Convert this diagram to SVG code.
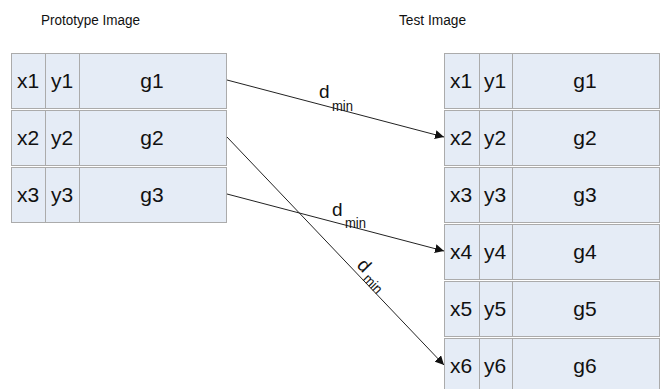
<svg xmlns="http://www.w3.org/2000/svg" width="665" height="389" viewBox="0 0 665 389">
<style>
.cell{fill:#e5ecf6;stroke:#ababab;stroke-width:1}
.div{stroke:#ababab;stroke-width:1}
.t{font-family:"Liberation Sans",Arial,sans-serif;font-size:21px;fill:#111;text-anchor:middle}
.title{font-family:"Liberation Sans",Arial,sans-serif;font-size:15.5px;fill:#111}
.d{font-family:"Liberation Sans",Arial,sans-serif;font-size:19px;fill:#111}
.m{font-family:"Liberation Sans",Arial,sans-serif;font-size:14px;fill:#111}
.arrow{stroke:#222;stroke-width:1;fill:none;marker-end:url(#ah)}
</style>
<defs>
<marker id="ah" viewBox="0 0 10 10" refX="10" refY="5" markerWidth="9" markerHeight="9" markerUnits="userSpaceOnUse" orient="auto">
<path d="M0,0 L10,5 L0,10 Z" fill="#111"/>
</marker>
</defs>
<rect width="665" height="389" fill="#ffffff"/>
<text class="title" x="41" y="25" textLength="99" lengthAdjust="spacingAndGlyphs">Prototype Image</text>
<text class="title" x="399" y="25" textLength="67" lengthAdjust="spacingAndGlyphs">Test Image</text>

<g id="proto-row1"><rect class="cell" x="11.5" y="53.5" width="215" height="55"/><line class="div" x1="45.5" y1="53.5" x2="45.5" y2="108.5"/><line class="div" x1="79.5" y1="53.5" x2="79.5" y2="108.5"/><text class="t" x="28" y="88">x1</text><text class="t" x="62" y="88">y1</text><text class="t" x="152" y="88">g1</text></g>
<g id="proto-row2"><rect class="cell" x="11.5" y="110.5" width="215" height="55"/><line class="div" x1="45.5" y1="110.5" x2="45.5" y2="165.5"/><line class="div" x1="79.5" y1="110.5" x2="79.5" y2="165.5"/><text class="t" x="28" y="145">x2</text><text class="t" x="62" y="145">y2</text><text class="t" x="152" y="145">g2</text></g>
<g id="proto-row3"><rect class="cell" x="11.5" y="167.5" width="215" height="55"/><line class="div" x1="45.5" y1="167.5" x2="45.5" y2="222.5"/><line class="div" x1="79.5" y1="167.5" x2="79.5" y2="222.5"/><text class="t" x="28" y="202">x3</text><text class="t" x="62" y="202">y3</text><text class="t" x="152" y="202">g3</text></g>

<g id="test-row1"><rect class="cell" x="444.5" y="53.5" width="215" height="55"/><line class="div" x1="479.5" y1="53.5" x2="479.5" y2="108.5"/><line class="div" x1="512.5" y1="53.5" x2="512.5" y2="108.5"/><text class="t" x="461" y="88">x1</text><text class="t" x="495" y="88">y1</text><text class="t" x="585" y="88">g1</text></g>
<g id="test-row2"><rect class="cell" x="444.5" y="110.5" width="215" height="55"/><line class="div" x1="479.5" y1="110.5" x2="479.5" y2="165.5"/><line class="div" x1="512.5" y1="110.5" x2="512.5" y2="165.5"/><text class="t" x="461" y="145">x2</text><text class="t" x="495" y="145">y2</text><text class="t" x="585" y="145">g2</text></g>
<g id="test-row3"><rect class="cell" x="444.5" y="167.5" width="215" height="55"/><line class="div" x1="479.5" y1="167.5" x2="479.5" y2="222.5"/><line class="div" x1="512.5" y1="167.5" x2="512.5" y2="222.5"/><text class="t" x="461" y="202">x3</text><text class="t" x="495" y="202">y3</text><text class="t" x="585" y="202">g3</text></g>
<g id="test-row4"><rect class="cell" x="444.5" y="224.5" width="215" height="55"/><line class="div" x1="479.5" y1="224.5" x2="479.5" y2="279.5"/><line class="div" x1="512.5" y1="224.5" x2="512.5" y2="279.5"/><text class="t" x="461" y="259">x4</text><text class="t" x="495" y="259">y4</text><text class="t" x="585" y="259">g4</text></g>
<g id="test-row5"><rect class="cell" x="444.5" y="281.5" width="215" height="55"/><line class="div" x1="479.5" y1="281.5" x2="479.5" y2="336.5"/><line class="div" x1="512.5" y1="281.5" x2="512.5" y2="336.5"/><text class="t" x="461" y="316">x5</text><text class="t" x="495" y="316">y5</text><text class="t" x="585" y="316">g5</text></g>
<g id="test-row6"><rect class="cell" x="444.5" y="338.5" width="215" height="55"/><line class="div" x1="479.5" y1="338.5" x2="479.5" y2="393.5"/><line class="div" x1="512.5" y1="338.5" x2="512.5" y2="393.5"/><text class="t" x="461" y="373">x6</text><text class="t" x="495" y="373">y6</text><text class="t" x="585" y="373">g6</text></g>

<g id="connectors">
<line class="arrow" x1="227" y1="80" x2="444" y2="137"/>
<line class="arrow" x1="227" y1="137" x2="444" y2="365"/>
<line class="arrow" x1="227" y1="194" x2="444" y2="251"/>
<text class="d" x="319" y="98">d</text><text class="m" x="332" y="111" textLength="21" lengthAdjust="spacingAndGlyphs">min</text>
<text class="d" x="332" y="216">d</text><text class="m" x="345" y="228" textLength="21" lengthAdjust="spacingAndGlyphs">min</text>
<g transform="translate(356,266) rotate(46)"><text class="d" x="0" y="0">d</text><text class="m" x="14" y="5" textLength="21" lengthAdjust="spacingAndGlyphs">min</text></g>
</g>
</svg>
